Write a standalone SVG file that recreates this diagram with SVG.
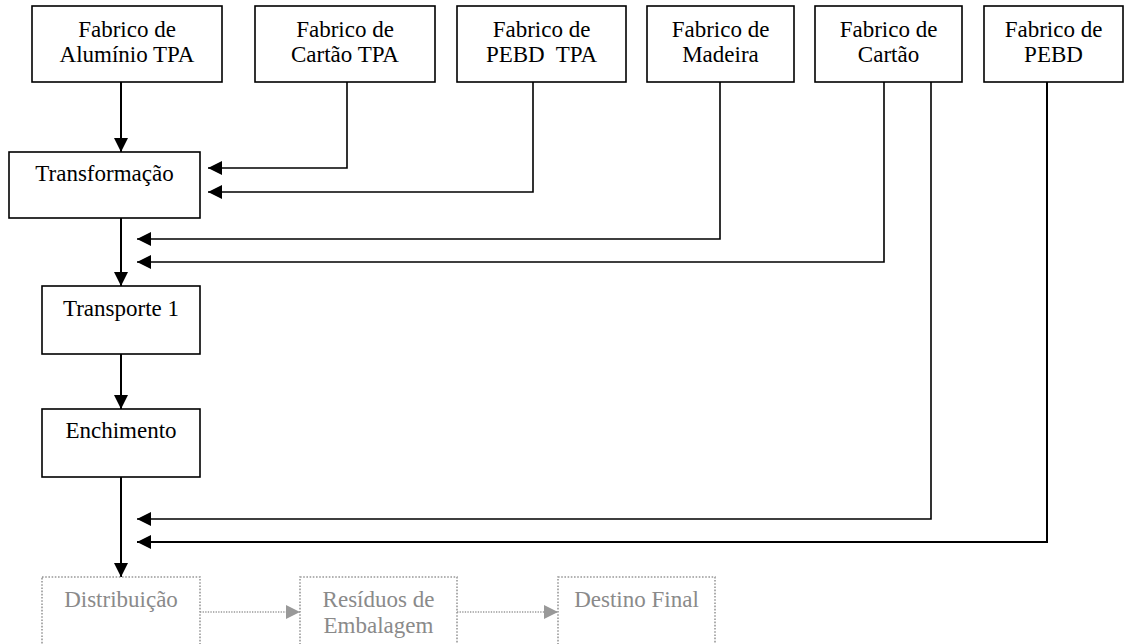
<svg xmlns="http://www.w3.org/2000/svg" width="1125" height="644" viewBox="0 0 1125 644">
<style>
.box{fill:#fff;stroke:#000;stroke-width:1.6}
.gbox{fill:#fff;stroke:#999;stroke-width:1.6;stroke-dasharray:1.6 1.6}
text{font-family:'Liberation Serif','Times New Roman','DejaVu Serif',serif;font-size:23px;text-anchor:middle}
.t{fill:#000}
.gt{fill:#8a8a8a}
.c{fill:none;stroke:#000;stroke-width:1.6}
.cm{fill:none;stroke:#000;stroke-width:2}
.gc{fill:none;stroke:#999;stroke-width:1.3;stroke-dasharray:1.3 1.3}
</style>
<defs>
<marker id="ah" markerUnits="userSpaceOnUse" markerWidth="16" markerHeight="16" viewBox="0 0 16 16" refX="15" refY="8" orient="auto">
<path d="M1,1 L15,8 L1,15 Z" fill="#000"/>
</marker>
<marker id="gah" markerUnits="userSpaceOnUse" markerWidth="16" markerHeight="16" viewBox="0 0 16 16" refX="15" refY="8" orient="auto">
<path d="M1,1 L15,8 L1,15 Z" fill="#999"/>
</marker>
</defs>
<g id="connectors">
<path class="cm" d="M121,82 V152" marker-end="url(#ah)"/>
<path class="c" d="M347,82 V168 H208" marker-end="url(#ah)"/>
<path class="c" d="M533,82 V192 H208" marker-end="url(#ah)"/>
<path class="cm" d="M121,218 V286" marker-end="url(#ah)"/>
<path class="c" d="M720,82 V239 H137" marker-end="url(#ah)"/>
<path class="c" d="M884,82 V262 H137" marker-end="url(#ah)"/>
<path class="cm" d="M121,354 V409" marker-end="url(#ah)"/>
<path class="cm" d="M121,477 V577" marker-end="url(#ah)"/>
<path class="c" d="M931,82 V519 H137" marker-end="url(#ah)"/>
<path class="cm" d="M1047,82 V542 H137" marker-end="url(#ah)"/>
<path class="gc" d="M200,612 H300" marker-end="url(#gah)"/>
<path class="gc" d="M457,612 H558" marker-end="url(#gah)"/>
</g>
<g id="n1"><rect class="box" x="32" y="6" width="190" height="76"/><text class="t" x="127" y="36.5">Fabrico de</text><text class="t" x="127" y="62">Alumínio TPA</text></g>
<g id="n2"><rect class="box" x="255" y="6" width="180" height="76"/><text class="t" x="345" y="36.5">Fabrico de</text><text class="t" x="345" y="62">Cartão TPA</text></g>
<g id="n3"><rect class="box" x="457" y="6" width="169" height="76"/><text class="t" x="541.5" y="36.5">Fabrico de</text><text class="t" x="541.5" y="62" xml:space="preserve">PEBD  TPA</text></g>
<g id="n4"><rect class="box" x="647" y="6" width="147" height="76"/><text class="t" x="720.5" y="36.5">Fabrico de</text><text class="t" x="720.5" y="62">Madeira</text></g>
<g id="n5"><rect class="box" x="815" y="6" width="147" height="76"/><text class="t" x="888.5" y="36.5">Fabrico de</text><text class="t" x="888.5" y="62">Cartão</text></g>
<g id="n6"><rect class="box" x="984" y="6" width="139" height="76"/><text class="t" x="1053.5" y="36.5">Fabrico de</text><text class="t" x="1053.5" y="62">PEBD</text></g>
<g id="n7"><rect class="box" x="9" y="152" width="191" height="66"/><text class="t" x="104.5" y="180.5">Transformação</text></g>
<g id="n8"><rect class="box" x="42" y="286" width="158" height="68"/><text class="t" x="121" y="316">Transporte 1</text></g>
<g id="n9"><rect class="box" x="42" y="409" width="158" height="68"/><text class="t" x="121" y="438">Enchimento</text></g>
<g id="n10"><rect class="gbox" x="42" y="577" width="158" height="80"/><text class="gt" x="121" y="606.5">Distribuição</text></g>
<g id="n11"><rect class="gbox" x="300" y="577" width="157" height="80"/><text class="gt" x="378.5" y="606.5">Resíduos de</text><text class="gt" x="378.5" y="632.5">Embalagem</text></g>
<g id="n12"><rect class="gbox" x="558" y="577" width="157" height="80"/><text class="gt" x="636.5" y="606.5">Destino Final</text></g>
</svg>
